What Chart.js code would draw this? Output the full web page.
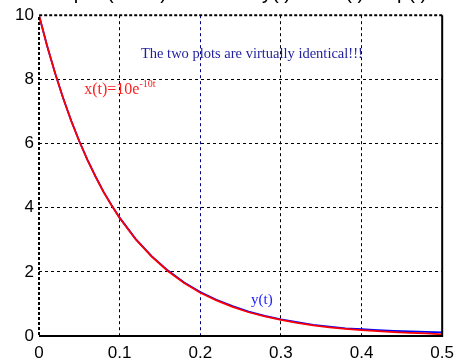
<!DOCTYPE html>
<html>
<head>
<meta charset="utf-8">
<script src="https://cdn.jsdelivr.net/npm/chart.js@4.4.0/dist/chart.umd.min.js"></script>
<style>
  html, body { margin: 0; padding: 0; background: #fff; }
  #wrap { width: 461px; height: 362px; position: relative; }
</style>
</head>
<body>
<div id="wrap"><canvas id="expChart"></canvas></div>
<script>
// values
const timeVals = [0, 0.01, 0.02, 0.03, 0.04, 0.05, 0.06, 0.07, 0.08, 0.09, 0.10,
  0.12, 0.14, 0.16, 0.18, 0.20, 0.22, 0.24, 0.26, 0.28, 0.30,
  0.32, 0.34, 0.36, 0.38, 0.40, 0.42, 0.44, 0.46, 0.48, 0.50];
const xVals = [10, 9.05, 8.19, 7.41, 6.70, 6.07, 5.49, 4.97, 4.49, 4.07, 3.68,
  3.01, 2.47, 2.02, 1.65, 1.35, 1.11, 0.91, 0.74, 0.61, 0.50,
  0.41, 0.33, 0.27, 0.22, 0.18, 0.15, 0.12, 0.10, 0.08, 0.05];
const yVals = [10, 9.05, 8.19, 7.41, 6.71, 6.07, 5.50, 4.98, 4.50, 4.08, 3.69,
  3.02, 2.48, 2.04, 1.67, 1.37, 1.13, 0.93, 0.76, 0.63, 0.52,
  0.43, 0.35, 0.29, 0.24, 0.21, 0.18, 0.16, 0.14, 0.13, 0.11];
const xTicks = [0, 0.1, 0.2, 0.3, 0.4, 0.5];
const yTicks = [0, 2, 4, 6, 8, 10];

const toPoints = (ts, vs) => ts.map((t, i) => ({ x: t, y: vs[i] }));

// frame, title fragment and text labels
const decorPlugin = {
  id: 'decor',
  afterDraw(chart) {
    const { ctx, chartArea: a, scales } = chart;
    ctx.save();
    // frame
    ctx.strokeStyle = '#000';
    ctx.lineWidth = 2;
    ctx.beginPath();
    ctx.moveTo(a.left, a.bottom);
    ctx.lineTo(a.right, a.bottom);
    ctx.lineTo(a.right, a.top);
    ctx.stroke();
    ctx.setLineDash([3, 2]);
    ctx.beginPath();
    ctx.moveTo(a.right, a.top);
    ctx.lineTo(a.left, a.top);
    ctx.lineTo(a.left, a.bottom);
    ctx.stroke();
    ctx.setLineDash([]);

    // title, mostly cut off by the top edge
    ctx.fillStyle = '#000';
    ctx.font = '20px "Liberation Sans", Arial, sans-serif';
    ctx.textBaseline = 'alphabetic';
    ctx.textAlign = 'right';
    ctx.fillText('Simulink Output (Euler)', 167, -1.5);
    ctx.textAlign = 'left';
    ctx.fillText('y(t) and x(t)=exp(t)', 262, -1.5);

    // annotations
    const px = v => scales.x.getPixelForValue(v);
    const py = v => scales.y.getPixelForValue(v);
    ctx.font = '14.5px "Liberation Serif", "Times New Roman", serif';
    ctx.fillStyle = '#1f1f9e';
    ctx.textAlign = 'center';
    ctx.fillText('The two plots are virtually identical!!!', px(0.264), py(8.68));

    ctx.textAlign = 'left';
    ctx.fillStyle = '#ff2020';
    ctx.font = '16px "Liberation Serif", "Times New Roman", serif';
    const base = 'x(t)=10e';
    const bx = px(0.056), by = py(7.55);
    ctx.fillText(base, bx, by);
    const w = ctx.measureText(base).width;
    ctx.font = '10px "Liberation Serif", "Times New Roman", serif';
    ctx.fillText('-10t', bx + w, by - 7);

    ctx.fillStyle = '#2020ff';
    ctx.font = '15px "Liberation Serif", "Times New Roman", serif';
    ctx.fillText('y(t)', px(0.263), py(1.0));
    ctx.restore();
  }
};

const tickFont = { family: '"Liberation Sans", Arial, sans-serif', size: 17 };

new Chart(document.getElementById('expChart').getContext('2d'), {
  type: 'line',
  data: {
    datasets: [
      {
        label: 'x(t)',
        data: toPoints(timeVals, xVals),
        borderColor: '#ff0000',
        borderWidth: 1.8,
        pointRadius: 0,
        tension: 0,
        order: 0
      },
      {
        label: 'y(t)',
        data: toPoints(timeVals, yVals),
        borderColor: '#0000ff',
        borderWidth: 1.8,
        pointRadius: 0,
        tension: 0,
        order: 1
      }
    ]
  },
  options: {
    responsive: true,
    maintainAspectRatio: false,
    animation: false,
    layout: { padding: { top: 14, right: 14, left: 0, bottom: 0 } },
    plugins: {
      legend: { display: false },
      tooltip: { enabled: false }
    },
    scales: {
      x: {
        type: 'linear',
        min: 0,
        max: 0.5,
        afterBuildTicks: s => { s.ticks = xTicks.map(v => ({ value: v })); },
        afterFit: s => { s.height = 26; },
        ticks: {
          color: '#000',
          font: tickFont,
          padding: 7,
          maxRotation: 0,
          callback: v => (v === 0 ? '0' : v.toFixed(1))
        },
        border: { display: false, dash: [3, 3] },
        grid: {
          drawTicks: false,
          color: ctx => (Math.abs(ctx.tick.value - 0.2) < 1e-9 ? '#000080' : '#000'),
          lineWidth: ctx => (ctx.tick.value === 0 || ctx.tick.value === 0.5 ? 0 : 1),
          tickLength: 0
        }
      },
      y: {
        min: 0,
        max: 10,
        afterBuildTicks: s => { s.ticks = yTicks.map(v => ({ value: v })); },
        afterFit: s => { s.width = 39; },
        ticks: {
          color: '#000',
          font: tickFont,
          padding: 5
        },
        border: { display: false, dash: [3, 3] },
        grid: {
          drawTicks: false,
          color: '#000',
          lineWidth: ctx => (ctx.tick.value === 0 || ctx.tick.value === 10 ? 0 : 1),
          tickLength: 0
        }
      }
    }
  },
  plugins: [decorPlugin]
});
</script>
</body>
</html>
